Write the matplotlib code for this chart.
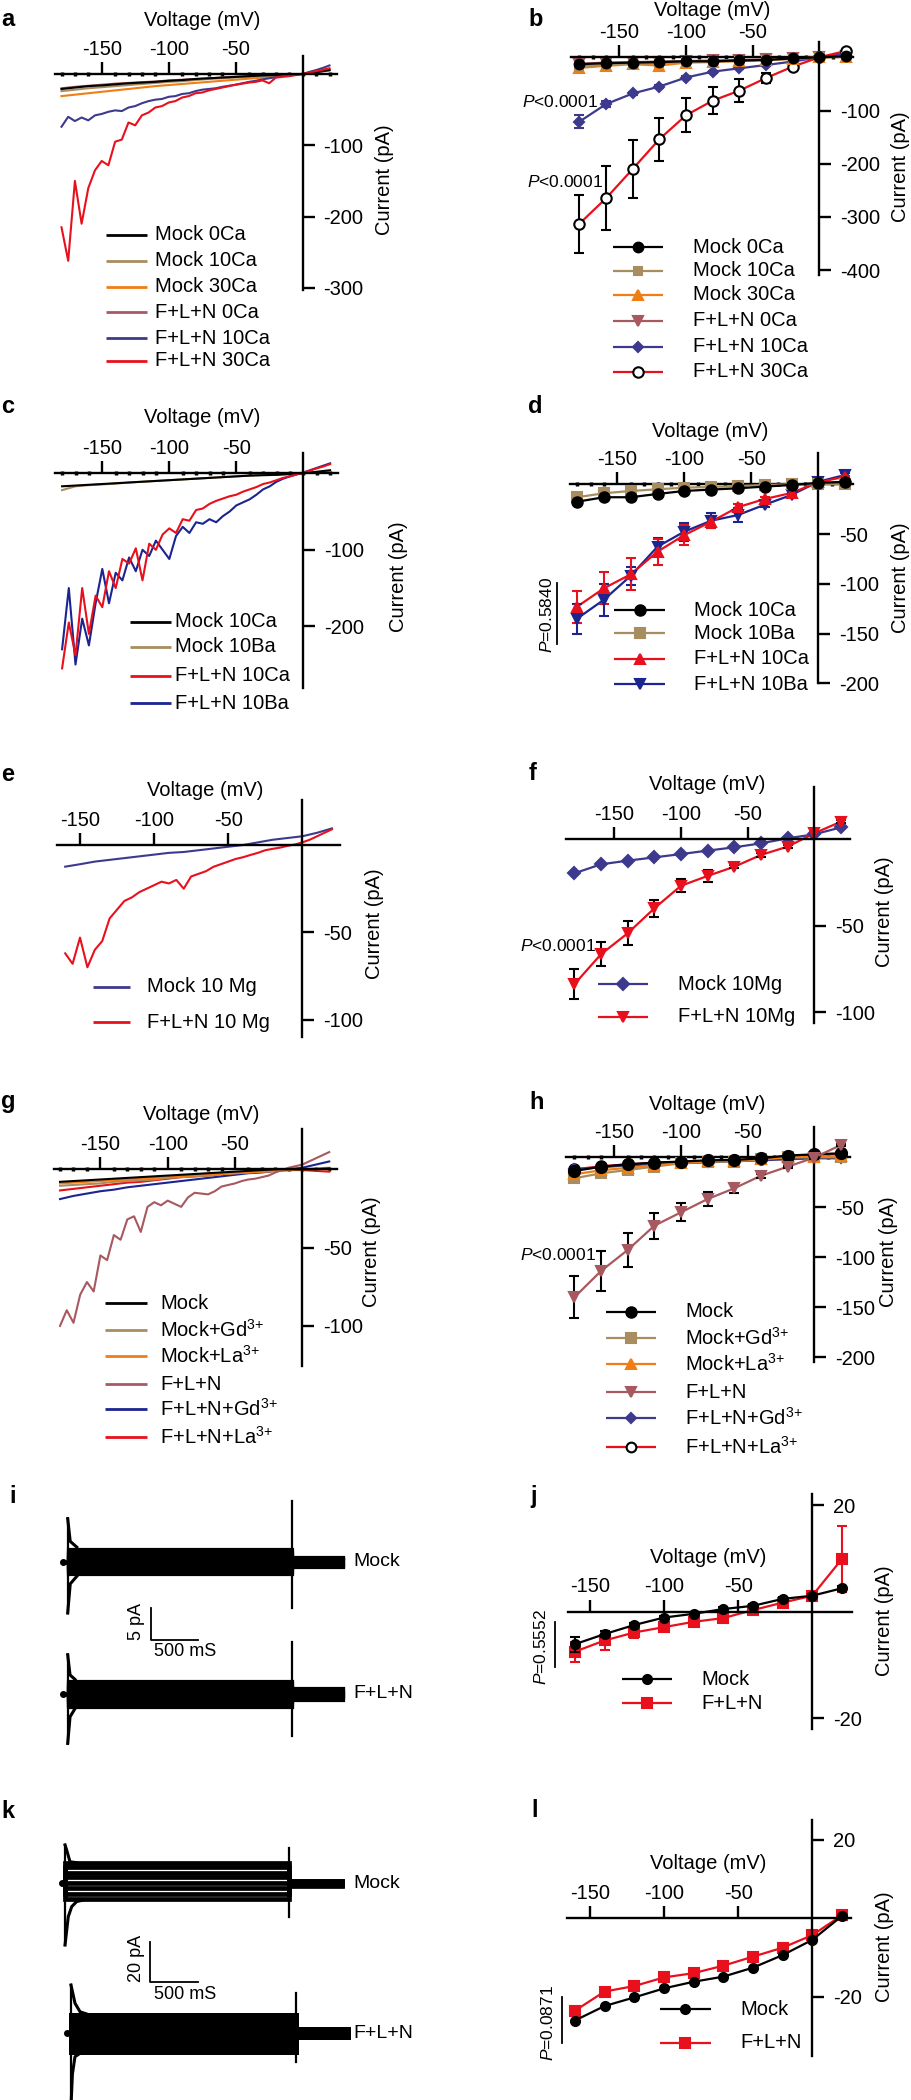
import matplotlib
matplotlib.use("Agg")
import matplotlib.pyplot as plt
from matplotlib.ticker import MultipleLocator

plt.rcParams['font.family'] = ['Liberation Sans', 'DejaVu Sans']
plt.rcParams['axes.unicode_minus'] = False
plt.rcParams['mathtext.fontset'] = 'custom'
plt.rcParams['mathtext.rm'] = 'Liberation Sans'
plt.rcParams['mathtext.it'] = 'Liberation Sans:italic'
plt.rcParams['mathtext.bf'] = 'Liberation Sans:bold'

# ---------------- voltages (mV) ----------------
RAMP_V = [-180, -175, -170, -165, -160, -155, -150, -145, -140, -135, -130, -125, -120, -115,
          -110, -105, -100, -95, -90, -85, -80, -75, -70, -65, -60, -55, -50, -45, -40, -35,
          -30, -25, -20, -15, -10, -5, 0, 5, 10, 15, 20]
RAMP10_V = [-180, -170, -160, -150, -140, -130, -120, -110, -100, -90, -80, -70, -60, -50,
            -40, -30, -20, -10, 0, 10, 20]
STEP_V = [-180, -160, -140, -120, -100, -80, -60, -40, -20, 0, 20]
STEP_V2 = [-160, -140, -120, -100, -80, -60, -40, -20, 0, 20]

# ---------------- panel a : ramp currents (pA) ----------------
A_FLN30 = [-215, -262, -150, -210, -160, -135, -122, -128, -95, -92, -68, -72, -58, -54, -47, -45,
           -40, -38, -33, -31, -27, -26, -23, -21, -19, -17, -15, -13.5, -12, -11, -9, -13, -5,
           -4, -3, -1.5, 0, 2, 4, 6, 8]
A_FLN10 = [-74, -60, -66, -61, -65, -58, -56, -53, -51, -52, -47, -45, -41, -38, -36, -35, -32,
           -31, -28, -27, -24, -22, -21, -20, -18, -16.5, -15, -13, -11, -9.5, -7.5, -6, -4.5,
           -3, -1.5, -0.5, 0, 3, 5.5, 8.5, 12]
A_MOCK0 = [-21, -19, -17, -16, -14.5, -13, -12, -11, -9.5, -8.5, -7, -6, -5, -4, -3, -2, -1.5,
           -0.5, 0, 2.5, 5.5]
A_MOCK10 = [-24, -22, -20, -18.5, -17, -15.5, -14, -12.5, -11, -10, -8.5, -7, -6, -5, -4, -3, -2,
            -1, 0, 3, 6]
A_MOCK30 = [-31, -29, -27, -25, -23, -21, -19, -17, -15.5, -14, -12.5, -11, -9.5, -8, -6.5, -5,
            -3.5, -2, 0, 3, 6]
A_FLN0 = [-20, -18, -16.5, -15, -13.5, -12.5, -11.5, -10.5, -9, -8, -7, -6, -5, -4, -3, -2, -1.5,
          -0.5, 0, 2.5, 5]

# ---------------- panel b : I-V means / SEM ----------------
B_MOCK0 = [-13, -11, -10, -9, -7.5, -7.5, -6, -5, -2, 0, 2]
B_MOCK10 = [-17, -14, -12, -11, -9, -8, -7, -5, -3, 0, 1]
B_MOCK30 = [-20, -16, -13, -15.5, -10, -9, -7, -5, -3, 0, 1]
B_FLN0 = [-12, -10, -9, -8, -7, -6, -5, -4, -2, 0, 2]
B_FLN10 = [-121, -88, -68, -55, -38, -27, -20.7, -14.5, -8, 0, 7.5]
B_FLN10_ERR = [12, 5, 3, 3, 3, 2, 2, 2, 1, 1, 1]
B_FLN30 = [-313, -265, -210, -154, -109, -81.5, -62.7, -39, -17.6, 0, 12]
B_FLN30_ERR = [54, 60, 55, 40, 32, 25, 21, 9, 3, 1, 2]

# ---------------- panel c : ramp currents ----------------
C_FLN_CA = [-255, -195, -238, -150, -210, -160, -175, -128, -150, -112, -118, -98, -140, -92,
            -100, -80, -72, -78, -60, -62, -48, -46, -40, -36, -33, -30, -28, -24, -21, -18, -14,
            -12, -9, -6, -4, -1.5, 1, 3.5, 6.5, 9, 12]
C_FLN_BA = [-230, -150, -250, -190, -225, -170, -125, -170, -130, -140, -110, -128, -100, -108,
            -88, -100, -112, -82, -70, -78, -64, -66, -60, -64, -56, -50, -42, -38, -34, -28, -21,
            -17, -11, -7, -4, -1.5, 1, 4, 7, 10, 13]
C_MOCK_CA = [-17, -16, -15, -14, -13, -12, -11, -10, -9, -8, -7, -6, -5, -4, -3, -2.5, -2, -1, 0,
             2, 4]
C_MOCK_BA = [-22, -17, -15.5, -14.5, -13.5, -12, -11, -10, -9, -8, -7, -6, -5, -4, -3, -2, -1.5,
             -1, 0, 1.5, 3]

# ---------------- panel d ----------------
D_MOCK_CA = [-17.5, -13, -13, -9.7, -6.7, -5.3, -4, -2.3, -0.7, 1.5, 2.5]
D_MOCK_BA = [-13, -9, -6.7, -5, -3.4, -2.7, -1.7, -0.7, 0, 0, 0]
D_FLN_CA = [-123, -104.5, -90.5, -67.7, -51, -37.6, -23, -14.8, -8.7, 2, 7.7]
D_FLN_CA_ERR = [16, 16, 16, 13, 10, 6, 3, 2, 1, 1, 1]
D_FLN_BA = [-135, -116, -92, -62.7, -47.6, -36.6, -30.9, -20.5, -10.7, 2.6, 9.4]
D_FLN_BA_ERR = [15, 16, 9, 9, 9, 7.5, 6.7, 2, 1, 1, 2]

# ---------------- panel e (ramp from -160 mV) ----------------
E_FLN = [-62, -68, -53, -70, -60, -55, -42, -37, -32, -30, -27, -25, -23, -21, -22, -20, -25,
         -18, -16.5, -15, -12.5, -11, -9.5, -8, -7, -5.7, -4.5, -3, -2.2, -1.5, -0.5, 0.3, 1.5,
         3, 5, 7, 9]
E_MOCK = [-12.4, -11, -9.5, -8.5, -7.5, -6.5, -5.5, -4.5, -4, -3, -2, -1, 0, 1.5, 3, 4, 5, 7, 9.5]

# ---------------- panel f ----------------
F_MOCK = [-19.8, -14.6, -12.5, -10.6, -8.7, -6.7, -4.8, -2.5, 0.4, 2.7, 6.7]
F_FLN = [-83.8, -66.5, -54.4, -40, -27, -21.3, -16, -9.2, -4.4, 3.3, 10]
F_FLN_ERR = [8.6, 7, 7, 5, 3.7, 3.7, 1, 1, 1, 0.5, 1]

# ---------------- panel g ----------------
G_FLN = [-100, -90, -98, -80, -72, -78, -55, -58, -42, -45, -32, -30, -40, -24, -21, -23, -20,
         -22, -24, -18, -15, -15.5, -16, -14, -11, -10, -9, -7.5, -6.5, -6, -5, -4, -2, -0.5, 1,
         2, 3, 5, 7, 9, 11]
G_MOCK = [-8, -7.5, -7, -6.5, -6, -5.5, -5, -4.5, -4, -3.5, -3, -2.5, -2, -1.5, -1, -0.5, 0, 0,
          0, 0, 0.5]
G_MOCK_GD = [-10.5, -10, -9.5, -9, -8, -7.5, -7, -6.5, -5.5, -5, -4.5, -4, -3, -2.5, -2, -1.5,
             -1, -0.5, 0, 0.5, 1]
G_MOCK_LA = [-9, -8.5, -8, -7.5, -7, -6.5, -6, -5.5, -5, -4.5, -4, -3.5, -3, -2.5, -2, -1.5, -1,
             -0.5, 0, 0, 0]
G_FLN_GD = [-19, -17, -15.5, -14, -13, -11.5, -10.5, -9.5, -8.5, -7.5, -6.5, -5.5, -4.5, -3.5,
            -2.5, -2, -1, 0, 1, 3, 5]
G_FLN_LA = [-13.5, -12.5, -11.5, -10.5, -9.5, -8.5, -8, -7, -6, -5, -4.5, -4, -3, -2.5, -2,
            -1.5, -1, -0.5, -0.5, -1, -1.5]

# ---------------- panel h ----------------
H_MOCK = [-13.7, -9.4, -7, -5.3, -4.3, -3, -2.7, -1, 1.7, 3, 4]
H_MOCK_GD = [-21, -16, -12.7, -9.3, -6, -4.3, -4.3, -2, 0, 0, 0]
H_MOCK_LA = [-17, -13, -10.5, -8, -5.5, -4, -3.5, -1.5, 0, 0.5, 1]
H_FLN = [-140, -113.7, -92.7, -68.4, -55, -41.7, -31, -18.4, -9.4, -0.3, 12.3]
H_FLN_ERR = [21, 20, 17, 13, 9, 7, 4.5, 2, 1, 1, 1]
H_FLN_GD = [-12, -10, -8, -7, -6, -5, -4, -3, -2, -1, -1]
H_FLN_LA = [-12, -9, -7, -5.5, -4.5, -3.5, -3, -1.5, 1, 2.5, 3.5]

# ---------------- panels i / k : current families ----------------
# pulse protocol (ms): onset, offset, end of record
I_PULSE = (53, 2443, 2985)
K_MOCK_PULSE = (35, 2388, 2938)
K_FLN_PULSE = (45, 2406, 2955)
I_MOCK_LEVELS = [-2.0, -1.6, -1.2, -0.8, -0.4, 0.0, 0.4, 0.8, 1.2, 1.6, 2.0]
I_MOCK_TAILS = [-0.8, -0.65, -0.5, -0.35, -0.2, 0, 0.2, 0.35, 0.5, 0.65, 0.8]
I_FLN_LEVELS = [-2.1, -1.7, -1.3, -0.9, -0.45, 0.0, 0.45, 0.9, 1.3, 1.7, 2.1]
I_FLN_TAILS = [-0.9, -0.7, -0.55, -0.35, -0.2, 0, 0.2, 0.35, 0.55, 0.7, 0.9]
K_MOCK_LEVELS = [10.2, 7.9, 5.2, 2.9, 0.3, -2.5, -5.3, -7.9]
K_MOCK_TAILS = [1.3, 1.0, 0.7, 0.4, 0, -0.4, -0.8, -1.2]
K_FLN_LEVELS = [9.0, 6.6, 4.6, 2.4, 0.0, -2.5, -4.4, -6.6, -9.0]
K_FLN_TAILS = [2.0, 1.6, 1.1, 0.6, 0, -0.6, -1.1, -1.6, -2.0]
# capacitive spikes (up, down) at onset and offset, pA
I_MOCK_SPIKES = ((6.8, -8.1), (9.5, -7.3))
I_FLN_SPIKES = ((6.2, -7.8), (8.2, -6.7))
K_MOCK_SPIKES = ((18.9, -30.4), (17.2, -16.5))
K_FLN_SPIKES = ((23.8, -36.0), (19.7, -14.0))
# onset transient envelopes (ms, pA)
I_MOCK_ON_T = [53, 80, 150]
I_MOCK_ON_HI = [6.8, 3.2, 2.3]
I_MOCK_ON_LO = [-8.1, -3.5, -2.3]
I_FLN_ON_T = [53, 78, 131]
I_FLN_ON_HI = [6.2, 3.0, 2.3]
I_FLN_ON_LO = [-7.8, -3.6, -2.3]
K_MOCK_HI_T = [35, 52, 87, 150]
K_MOCK_HI = [18.9, 16.4, 10.6, 10.2]
K_MOCK_LO_T = [35, 69, 105, 157, 230]
K_MOCK_LO = [-30.4, -16.4, -11.5, -9.0, -8.2]
K_FLN_HI_T = [45, 87, 140, 210]
K_FLN_HI = [23.8, 14.8, 10.6, 9.5]
K_FLN_LO_T = [45, 60, 87, 140]
K_FLN_LO = [-36.0, -20.0, -11.5, -9.9]
SCALE_I = (500, 5)
SCALE_K = (500, 20)

# ---------------- panel j / l ----------------
J_MOCK = [-6.1, -4.2, -2.5, -1.1, -0.4, 0.5, 1.1, 2.4, 3.0, 4.4]
J_MOCK_ERR = [1.4, 0.5, 0.4, 0.3, 0.3, 0.3, 0.3, 0.3, 0.3, 0.5]
J_FLN = [-7.5, -5.4, -3.9, -2.9, -1.9, -1.2, 0.3, 1.7, 3.0, 9.9]
J_FLN_ERR = [1.9, 1.7, 1.0, 0.5, 0.5, 0.5, 0.5, 0.5, 0.5, 6.2]
L_MOCK = [-26.1, -22.4, -20.2, -17.9, -16.2, -14.9, -12.6, -9.4, -5.5, 0.6]
L_FLN = [-23.6, -18.7, -17.3, -15.1, -14.0, -12.1, -9.8, -7.5, -4.3, 0.8]

BLACK = 'black'
TAN = '#a78d5f'
ORANGE = '#f07e14'
ROSE = '#a8585f'
SLATE = '#3d3a8e'
RED = '#e8101c'
NAVY = '#1b2590'

W, H = 911, 2100
fig = plt.figure(figsize=(W / 100, H / 100), dpi=100)
ov = fig.add_axes([0, 0, 1, 1])
ov.set_xlim(0, W)
ov.set_ylim(H, 0)
ov.axis('off')
ov.patch.set_visible(False)


def place(ox, oy, sx, sy, xlim, ylim):
    # axes whose data origin sits at pixel (ox, oy), sx/sy = pixels per unit
    left = ox + xlim[0] * sx
    right = ox + xlim[1] * sx
    top = oy - ylim[1] * sy
    bottom = oy - ylim[0] * sy
    ax = fig.add_axes([left / W, 1 - bottom / H, (right - left) / W, (bottom - top) / H])
    ax.set_xlim(xlim)
    ax.set_ylim(ylim)
    ax.patch.set_visible(False)
    return ax


def iv_axes(ox, oy, sx, sy, xlim, ylim, yticks, dots=True):
    ax = place(ox, oy, sx, sy, xlim, ylim)
    ax.spines['left'].set_visible(False)
    ax.spines['bottom'].set_visible(False)
    ax.spines['top'].set_position(('data', 0))
    ax.spines['right'].set_position(('data', 0))
    ax.spines['top'].set_linewidth(1.7)
    ax.spines['right'].set_linewidth(1.7)
    ax.xaxis.set_ticks_position('top')
    ax.yaxis.set_ticks_position('right')
    ax.set_xticks([-150, -100, -50])
    ax.set_yticks(yticks)
    ax.tick_params(axis='x', length=8.5, width=1.7, pad=2.5, labelsize=14.5)
    ax.tick_params(axis='y', length=8.5, width=1.7, pad=6.5, labelsize=14.5)
    if dots:
        ax.xaxis.set_minor_locator(MultipleLocator(10))
        ax.tick_params(axis='x', which='minor', length=2.5, width=2.5, direction='inout')
    return ax


def labels(letter, lx, ly, vx, vy, cx, cy):
    ov.text(lx, ly, letter, fontsize=17, fontweight='bold', ha='left', va='baseline')
    ov.text(vx, vy, 'Voltage (mV)', fontsize=14.5, ha='center', va='center')
    ov.text(cx, cy, 'Current (pA)', fontsize=14.5, ha='center', va='center', rotation=90)


def legend(x0, x1, xt, ys, entries, lw=2):
    for y, (lab, col, mk, ms, mfc, mec) in zip(ys, entries):
        ov.plot([x0, x1], [y, y], color=col, lw=lw, solid_capstyle='butt')
        if mk:
            ov.plot([(x0 + x1) / 2], [y], ls='none', marker=mk, ms=ms, mfc=mfc, mec=mec, mew=1.5)
        ov.text(xt, y, lab, fontsize=14.5, ha='left', va='center')


def series(ax, v, i, col, mk, ms, err=None, ecol='k', mfc=None, mec=None, z=2):
    ax.plot(v, i, color=col, lw=1.6, zorder=z, clip_on=False)
    if err is not None:
        ax.errorbar(v, i, yerr=err, fmt='none', ecolor=ecol, elinewidth=1.5, capsize=3.5,
                    capthick=1.5, zorder=z + 0.2, clip_on=False)
    ax.plot(v, i, ls='none', marker=mk, ms=ms, mfc=mfc or col, mec=mec or col, mew=1.5,
            zorder=z + 0.4, clip_on=False)


def pvert(x, y, s, bx, by0, by1):
    ov.text(x, y, s, fontsize=12.5, rotation=90, ha='center', va='center')
    ov.plot([bx, bx], [by0, by1], color='k', lw=1.3)


GD = r'$^{3{+}}$'

# ================= a =================
ax = iv_axes(302.7, 74, 1.34, 0.713, (-185, 25.6), (-303, 25), [-100, -200, -300])
ax.plot(RAMP10_V, A_FLN0, color=ROSE, lw=1.5)
ax.plot(RAMP10_V, A_MOCK30, color=ORANGE, lw=1.5)
ax.plot(RAMP10_V, A_MOCK10, color=TAN, lw=1.5)
ax.plot(RAMP10_V, A_MOCK0, color=BLACK, lw=1.5)
ax.plot(RAMP_V, A_FLN10, color=SLATE, lw=1.5)
ax.plot(RAMP_V, A_FLN30, color=RED, lw=1.5)
labels('a', 1, 26, 202, 21, 385, 180)
legend(106, 147, 155, [235, 261, 287, 312, 338, 361],
       [('Mock 0Ca', BLACK, None, 0, None, None), ('Mock 10Ca', TAN, None, 0, None, None),
        ('Mock 30Ca', ORANGE, None, 0, None, None), ('F+L+N 0Ca', ROSE, None, 0, None, None),
        ('F+L+N 10Ca', SLATE, None, 0, None, None), ('F+L+N 30Ca', RED, None, 0, None, None)])

# ================= b =================
ax = iv_axes(819.3, 57.3, 1.333, 0.532, (-186, 25), (-409, 29), [-100, -200, -300, -400])
series(ax, STEP_V, B_FLN0, ROSE, 'v', 6.5)
series(ax, STEP_V, B_FLN10, SLATE, 'D', 5, err=B_FLN10_ERR, ecol=SLATE)
series(ax, STEP_V, B_FLN30, RED, 'o', 7.5, err=B_FLN30_ERR, mfc='white', mec='k')
series(ax, STEP_V, B_MOCK30, ORANGE, '^', 6.5, z=3)
series(ax, STEP_V, B_MOCK10, TAN, 's', 6, z=3)
series(ax, STEP_V, B_MOCK0, BLACK, 'o', 7, z=4)
labels('b', 528, 26, 711.7, 10, 900, 167)
ov.text(521.7, 101.7, r'$P$<0.0001', fontsize=12.5, ha='left', va='center')
ov.text(526.7, 181.7, r'$P$<0.0001', fontsize=12.5, ha='left', va='center')
legend(613.3, 663.3, 693.3, [247.3, 270.7, 295, 320.7, 346.7, 371.7],
       [('Mock 0Ca', BLACK, 'o', 7, BLACK, BLACK), ('Mock 10Ca', TAN, 's', 6, TAN, TAN),
        ('Mock 30Ca', ORANGE, '^', 6.5, ORANGE, ORANGE), ('F+L+N 0Ca', ROSE, 'v', 6.5, ROSE, ROSE),
        ('F+L+N 10Ca', SLATE, 'D', 5, SLATE, SLATE), ('F+L+N 30Ca', RED, 'o', 7.5, 'white', 'k')],
       lw=1.6)

# ================= c =================
ax = iv_axes(303.3, 473.3, 1.34, 0.765, (-185.3, 26.1), (-281, 26), [-100, -200])
ax.plot(RAMP10_V, C_MOCK_BA, color=TAN, lw=1.5)
ax.plot(RAMP10_V, C_MOCK_CA, color=BLACK, lw=1.5)
ax.plot(RAMP_V, C_FLN_BA, color=NAVY, lw=1.5)
ax.plot(RAMP_V, C_FLN_CA, color=RED, lw=1.5)
labels('c', 1, 413.3, 201.7, 417.7, 398, 576.7)
legend(130, 170.7, 175, [621.7, 646.7, 675.7, 703.3],
       [('Mock 10Ca', BLACK, None, 0, None, None), ('Mock 10Ba', TAN, None, 0, None, None),
        ('F+L+N 10Ca', RED, None, 0, None, None), ('F+L+N 10Ba', NAVY, None, 0, None, None)])

# ================= d =================
ax = iv_axes(818.3, 484.3, 1.34, 0.995, (-185.3, 26.2), (-200, 31), [-50, -100, -150, -200])
series(ax, STEP_V, D_FLN_BA, NAVY, 'v', 7, err=D_FLN_BA_ERR, ecol=NAVY)
series(ax, STEP_V, D_FLN_CA, RED, '^', 7, err=D_FLN_CA_ERR, ecol=RED)
series(ax, STEP_V, D_MOCK_BA, TAN, 's', 6.5, z=3)
series(ax, STEP_V, D_MOCK_CA, BLACK, 'o', 7.5, z=4)
labels('d', 528, 413.3, 710, 431.7, 900, 578)
pvert(546.7, 615, r'$P$=0.5840', 556.7, 583, 644.3)
legend(614.3, 665, 694.3, [610, 633.3, 659, 684.3],
       [('Mock 10Ca', BLACK, 'o', 7.5, BLACK, BLACK), ('Mock 10Ba', TAN, 's', 6.5, TAN, TAN),
        ('F+L+N 10Ca', RED, '^', 7, RED, RED), ('F+L+N 10Ba', NAVY, 'v', 7, NAVY, NAVY)],
       lw=1.6)

# ================= e =================
ax = iv_axes(302.3, 845, 1.482, 1.747, (-165.3, 25.4), (-110, 25.6), [-50, -100], dots=False)
ax.plot(RAMP10_V[2:], E_MOCK, color=SLATE, lw=1.5)
ax.plot(RAMP_V[4:], E_FLN, color=RED, lw=1.5)
labels('e', 1, 781, 205, 790, 375, 924)
legend(92.7, 130, 146.7, [986.7, 1022.3],
       [('Mock 10 Mg', SLATE, None, 0, None, None), ('F+L+N 10 Mg', RED, None, 0, None, None)])

# ================= f =================
ax = iv_axes(814.3, 839, 1.333, 1.733, (-186.3, 26.8), (-106, 30), [-50, -100], dots=False)
series(ax, STEP_V, F_MOCK, SLATE, 'D', 6)
series(ax, STEP_V, F_FLN, RED, 'v', 7.5, err=F_FLN_ERR)
labels('f', 529, 780, 706.7, 784.3, 885, 912)
ov.text(520, 945.7, r'$P$<0.0001', fontsize=12.5, ha='left', va='center')
legend(597.7, 647.7, 677.7, [984, 1016.7],
       [('Mock 10Mg', SLATE, 'D', 6, SLATE, SLATE), ('F+L+N 10Mg', RED, 'v', 7.5, RED, RED)],
       lw=1.6)

# ================= g =================
ax = iv_axes(302.3, 1169.3, 1.346, 1.566, (-184.2, 25.6), (-125.6, 25.7), [-50, -100])
ax.plot(RAMP10_V, G_FLN_GD, color=NAVY, lw=1.5)
ax.plot(RAMP10_V, G_FLN_LA, color=RED, lw=1.5)
ax.plot(RAMP10_V, G_MOCK_GD, color=TAN, lw=1.5)
ax.plot(RAMP10_V, G_MOCK_LA, color=ORANGE, lw=1.5)
ax.plot(RAMP10_V, G_MOCK, color=BLACK, lw=1.5)
ax.plot(RAMP_V, G_FLN, color=ROSE, lw=1.5)
labels('g', 1, 1108.3, 201, 1115, 371.7, 1252)
legend(105, 146.7, 160, [1303.3, 1330, 1356, 1384, 1409, 1437.3],
       [('Mock', BLACK, None, 0, None, None), ('Mock+Gd' + GD, TAN, None, 0, None, None),
        ('Mock+La' + GD, ORANGE, None, 0, None, None), ('F+L+N', ROSE, None, 0, None, None),
        ('F+L+N+Gd' + GD, NAVY, None, 0, None, None),
        ('F+L+N+La' + GD, RED, None, 0, None, None)])

# ================= h =================
ax = iv_axes(814.3, 1157.3, 1.333, 1.0, (-186.3, 26.8), (-205, 30), [-50, -100, -150, -200])
series(ax, STEP_V, H_FLN_LA, RED, 'o', 7.5, mfc='white', mec='k')
series(ax, STEP_V, H_FLN_GD, SLATE, 'D', 5)
series(ax, STEP_V, H_MOCK_GD, TAN, 's', 7, z=3)
series(ax, STEP_V, H_MOCK_LA, ORANGE, '^', 7, z=3)
series(ax, STEP_V, H_MOCK, BLACK, 'o', 8, z=4)
series(ax, STEP_V, H_FLN, ROSE, 'v', 7, err=H_FLN_ERR, z=5)
labels('h', 529, 1109, 706.7, 1105, 888, 1252)
ov.text(520, 1255, r'$P$<0.0001', fontsize=12.5, ha='left', va='center')
legend(605.7, 656, 685, [1311.7, 1337.7, 1363.7, 1392.3, 1418.3, 1447.3],
       [('Mock', BLACK, 'o', 7.5, BLACK, BLACK), ('Mock+Gd' + GD, TAN, 's', 6.5, TAN, TAN),
        ('Mock+La' + GD, ORANGE, '^', 6.5, ORANGE, ORANGE), ('F+L+N', ROSE, 'v', 6.5, ROSE, ROSE),
        ('F+L+N+Gd' + GD, SLATE, 'D', 5, SLATE, SLATE),
        ('F+L+N+La' + GD, RED, 'o', 7, 'white', 'k')], lw=1.6)


# ================= i / k current families =================
def family(ax, pulse, levels, tails, spikes, lw, on_t=None, on_hi=None, lo_t=None, on_lo=None):
    t_on, t_off, t_end = pulse
    for lev, tail in zip(levels, tails):
        ax.plot([0, t_on, t_on, t_off, t_off, t_end], [0, 0, lev, lev, tail, tail],
                color='k', lw=lw, clip_on=False, solid_joinstyle='miter')
    (u0, d0), (u1, d1) = spikes
    ax.plot([t_on, t_on], [u0, d0], color='k', lw=1.6, clip_on=False)
    ax.plot([t_off, t_off], [u1, d1], color='k', lw=1.6, clip_on=False)
    if on_t is not None:
        ax.plot(on_t, on_hi, color='k', lw=2.2, clip_on=False)
        ax.plot(lo_t, on_lo, color='k', lw=2.2, clip_on=False)
    ax.plot([0], [0], 'ko', ms=4, clip_on=False)
    ax.axis('off')


ti1 = place(62.7, 1561.7, 0.094, 6.34, (0, 3000), (-12, 12))
family(ti1, I_PULSE, I_MOCK_LEVELS, I_MOCK_TAILS, I_MOCK_SPIKES, 2.3,
       I_MOCK_ON_T, I_MOCK_ON_HI, I_MOCK_ON_T, I_MOCK_ON_LO)
tb, ab = SCALE_I
ti1.plot([936, 936, 936 + tb], [-7.35, -7.35 - ab, -7.35 - ab], color='k', lw=1.3, clip_on=False)
ti2 = place(62.7, 1694, 0.094, 6.34, (0, 3000), (-12, 12))
family(ti2, I_PULSE, I_FLN_LEVELS, I_FLN_TAILS, I_FLN_SPIKES, 2.3,
       I_FLN_ON_T, I_FLN_ON_HI, I_FLN_ON_T, I_FLN_ON_LO)
ov.text(9, 1503.3, 'i', fontsize=17, fontweight='bold', ha='left', va='baseline')
ov.text(353.3, 1561.7, 'Mock', fontsize=14, ha='left', va='center')
ov.text(353.3, 1694, 'F+L+N', fontsize=14, ha='left', va='center')
ov.text(136.7, 1621.7, '5 pA', fontsize=13, rotation=90, ha='center', va='center')
ov.text(185, 1651.7, '500 mS', fontsize=13, ha='center', va='center')

tk1 = place(61.7, 1883.3, 0.0953, 2.03, (0, 3000), (-32, 20))
family(tk1, K_MOCK_PULSE, K_MOCK_LEVELS, K_MOCK_TAILS, K_MOCK_SPIKES, 3.4,
       K_MOCK_HI_T, K_MOCK_HI, K_MOCK_LO_T, K_MOCK_LO)
tb, ab = SCALE_K
tk1.plot([926.5, 926.5, 926.5 + tb], [-28.8, -28.8 - ab, -28.8 - ab], color='k', lw=1.3,
         clip_on=False)
tk2 = place(66.7, 2033.3, 0.0953, 2.03, (0, 3000), (-34, 25))
family(tk2, K_FLN_PULSE, K_FLN_LEVELS, K_FLN_TAILS, K_FLN_SPIKES, 3.6,
       K_FLN_HI_T, K_FLN_HI, K_FLN_LO_T, K_FLN_LO)
ov.text(1, 1818.3, 'k', fontsize=17, fontweight='bold', ha='left', va='baseline')
ov.text(353.3, 1883.3, 'Mock', fontsize=14, ha='left', va='center')
ov.text(353.3, 2033.3, 'F+L+N', fontsize=14, ha='left', va='center')
ov.text(136.7, 1958.3, '20 pA', fontsize=13, rotation=90, ha='center', va='center')
ov.text(185, 1994.3, '500 mS', fontsize=13, ha='center', va='center')

# ================= j =================
ax = iv_axes(812.3, 1611.7, 1.484, 5.33, (-164.8, 26.5), (-22.1, 22), [20, -20], dots=False)
series(ax, STEP_V2, J_FLN, RED, 's', 6.5, err=J_FLN_ERR, ecol=RED)
series(ax, STEP_V2, J_MOCK, BLACK, 'o', 6.5, err=J_MOCK_ERR, z=3)
labels('j', 530, 1503.3, 708.3, 1557.7, 885, 1621)
pvert(541, 1646.7, r'$P$=0.5552', 555, 1621.7, 1666.7)
legend(621.7, 672.3, 701.7, [1679.3, 1703.3],
       [('Mock', BLACK, 'o', 6.5, BLACK, BLACK), ('F+L+N', RED, 's', 6.5, RED, RED)], lw=1.6)

# ================= l =================
ax = iv_axes(812.3, 1918.3, 1.484, 3.917, (-165.5, 26.1), (-35.2, 25), [20, -20], dots=False)
series(ax, STEP_V2, L_FLN, RED, 's', 6.5)
series(ax, STEP_V2, L_MOCK, BLACK, 'o', 6.5, z=3)
labels('l', 531, 1816.7, 707.7, 1863.3, 885, 1946.7)
pvert(548.3, 2023.3, r'$P$=0.0871', 562.3, 1996.7, 2043.3)
legend(660, 710.7, 740, [2009.3, 2042.7],
       [('Mock', BLACK, 'o', 6.5, BLACK, BLACK), ('F+L+N', RED, 's', 6.5, RED, RED)], lw=1.6)

fig.savefig('out.png', dpi=100)
